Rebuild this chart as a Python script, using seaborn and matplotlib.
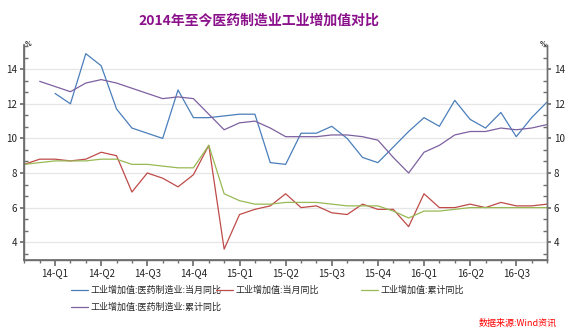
import numpy as np
import pandas as pd
import matplotlib
matplotlib.use("Agg")
import matplotlib.pyplot as plt
from matplotlib.ticker import MultipleLocator, FixedLocator
from matplotlib.lines import Line2D
import seaborn as sns

# ---- data (monthly, Jan 2014 .. Nov 2016; index -2 .. 32) ----
month_idx = list(range(-2, 33))
blue_pharma_month = [np.nan, np.nan, 12.6, 12.0, 14.9, 14.2, 11.7, 10.6, 10.3, 10.0,
                     12.8, 11.2, 11.2, 11.3, 11.4, 11.4, 8.6, 8.5, 10.3, 10.3,
                     10.7, 10.0, 8.9, 8.6, 9.5, 10.4, 11.2, 10.7, 12.2, 11.1,
                     10.6, 11.5, 10.1, 11.2, 12.1]
red_total_month = [8.5, 8.8, 8.8, 8.7, 8.8, 9.2, 9.0, 6.9, 8.0, 7.7,
                   7.2, 7.9, 9.6, 3.6, 5.6, 5.9, 6.1, 6.8, 6.0, 6.1,
                   5.7, 5.6, 6.2, 5.9, 5.9, 4.9, 6.8, 6.0, 6.0, 6.2,
                   6.0, 6.3, 6.1, 6.1, 6.2]
green_total_cum = [8.5, 8.6, 8.7, 8.7, 8.7, 8.8, 8.8, 8.5, 8.5, 8.4,
                   8.3, 8.3, 9.6, 6.8, 6.4, 6.2, 6.2, 6.3, 6.3, 6.3,
                   6.2, 6.1, 6.1, 6.1, 5.8, 5.4, 5.8, 5.8, 5.9, 6.0,
                   6.0, 6.0, 6.0, 6.0, 6.0]
purple_pharma_cum = [np.nan, 13.3, 13.0, 12.7, 13.2, 13.4, 13.2, 12.9, 12.6, 12.3,
                     12.4, 12.3, 11.4, 10.5, 10.9, 11.0, 10.6, 10.1, 10.1, 10.1,
                     10.2, 10.2, 10.1, 9.9, 8.9, 8.0, 9.2, 9.6, 10.2, 10.4,
                     10.4, 10.6, 10.5, 10.6, 10.8]

series_names = ["工业增加值:医药制造业:当月同比", "工业增加值:当月同比",
                "工业增加值:累计同比", "工业增加值:医药制造业:累计同比"]
series_colors = ["#4A7EBB", "#BE4B48", "#98B954", "#7D60A0"]
tick_pos = [0, 3, 6, 9, 12, 15, 18, 21, 24, 27, 30]
tick_labels = ["14-Q1", "14-Q2", "14-Q3", "14-Q4", "15-Q1", "15-Q2",
               "15-Q3", "15-Q4", "16-Q1", "16-Q2", "16-Q3"]

frames = []
for name, vals in zip(series_names, [blue_pharma_month, red_total_month,
                                     green_total_cum, purple_pharma_cum]):
    frames.append(pd.DataFrame({"month": month_idx, "value": vals, "series": name}))
df = pd.concat(frames, ignore_index=True).dropna()

sns.set_theme(style="white")
plt.rcParams["font.family"] = ["Noto Sans CJK SC", "DejaVu Sans"]

fig = plt.figure(figsize=(5.77, 3.28), dpi=100)
ax = fig.add_axes([24.3 / 577, 1 - 259.5 / 328, (547 - 24.3) / 577, (259.5 - 45) / 328])

palette = dict(zip(series_names, series_colors))
sns.lineplot(data=df, x="month", y="value", hue="series", palette=palette,
             hue_order=series_names, ax=ax, linewidth=0.9, legend=False,
             estimator=None, sort=True)

ax.set_xlim(-2, 32)
ax.set_ylim(3, 15.4)
ax.set_xlabel("")
ax.set_ylabel("")

ax.yaxis.set_major_locator(FixedLocator([4, 6, 8, 10, 12, 14]))
ax.yaxis.set_minor_locator(MultipleLocator(2 / 3))
ax.grid(axis="y", which="major", color="#E6E6E6", linewidth=0.9)
ax.set_axisbelow(True)

ax.xaxis.set_major_locator(FixedLocator(tick_pos))
ax.xaxis.set_minor_locator(MultipleLocator(1))
ax.set_xticklabels(tick_labels)

spine_c = "#6E6E6E"
for s in ["left", "right", "bottom"]:
    ax.spines[s].set_visible(True)
    ax.spines[s].set_color(spine_c)
    ax.spines[s].set_linewidth(1.0)
ax.spines["top"].set_visible(False)

ax.tick_params(axis="x", which="major", direction="out", length=4, color=spine_c,
               labelsize=7, labelcolor="#222222", pad=2, bottom=True)
ax.tick_params(axis="x", which="minor", direction="out", length=2.5, color=spine_c, bottom=True)
ax.tick_params(axis="y", which="major", direction="out", length=3, color=spine_c,
               labelsize=7, labelcolor="#222222", pad=2, left=True)
ax.tick_params(axis="y", which="minor", direction="in", length=3, color=spine_c, left=True)

ax2 = ax.twinx()
ax2.set_ylim(ax.get_ylim())
ax2.yaxis.set_major_locator(FixedLocator([4, 6, 8, 10, 12, 14]))
ax2.yaxis.set_minor_locator(MultipleLocator(2 / 3))
ax2.spines["top"].set_visible(False)
for s in ["left", "right", "bottom"]:
    ax2.spines[s].set_color(spine_c)
ax2.spines["right"].set_linewidth(1.0)
ax2.tick_params(axis="y", which="major", direction="out", length=3, color=spine_c,
                labelsize=7, labelcolor="#222222", pad=2, right=True)
ax2.tick_params(axis="y", which="minor", direction="in", length=3, color=spine_c, right=True)
ax2.grid(False)

# percent unit labels
fig.text(25 / 577, 1 - 43 / 328, "%", fontsize=5, fontweight="bold", ha="left", va="center", color="#222222")
fig.text(546 / 577, 1 - 43 / 328, "%", fontsize=5, fontweight="bold", ha="right", va="center", color="#222222")

# title
fig.text(259 / 577, 1 - 20 / 328, "2014年至今医药制造业工业增加值对比", fontsize=10,
         fontweight="bold", color="#8B108B", ha="center", va="center")

# legends (three columns)
def make_handle(i):
    return Line2D([0], [0], color=series_colors[i], linewidth=0.9)

leg_kw = dict(frameon=False, fontsize=6.5, handlelength=1.9, handletextpad=0.25,
              borderpad=0, labelspacing=0.85, borderaxespad=0)
l1 = fig.legend([make_handle(0), make_handle(3)], [series_names[0], series_names[3]],
                loc="upper left", bbox_to_anchor=(71 / 577, 1 - 286 / 328), **leg_kw)
l2 = fig.legend([make_handle(1)], [series_names[1]],
                loc="upper left", bbox_to_anchor=(216 / 577, 1 - 286 / 328), **leg_kw)
l3 = fig.legend([make_handle(2)], [series_names[2]],
                loc="upper left", bbox_to_anchor=(361 / 577, 1 - 286 / 328), **leg_kw)

# source note
fig.text(557 / 577, 1 - 323.5 / 328, "数据来源:Wind资讯", fontsize=6.5, style="italic",
         color="#FF0000", ha="right", va="center")

fig.savefig("out.png", dpi=100)
